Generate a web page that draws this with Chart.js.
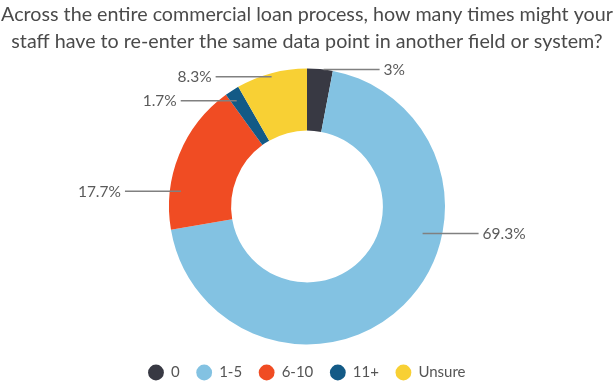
<!DOCTYPE html>
<html>
<head>
<meta charset="utf-8">
<script src="https://cdn.jsdelivr.net/npm/chart.js@4/dist/chart.umd.min.js"></script>
<style>
  html, body { margin: 0; padding: 0; background: #ffffff; }
  #wrap { width: 614px; height: 383px; position: relative; }
</style>
</head>
<body>
<div id="wrap"><canvas id="c" width="614" height="383"></canvas></div>
<script>
const titleLines = [
  'Across the entire commercial loan process, how many times might your',
  'staff have to re-enter the same data point in another field or system?'
];
const categories = ['0', '1-5', '6-10', '11+', 'Unsure'];
const values = [3, 69.3, 17.7, 1.7, 8.3];
const valueLabels = ['3%', '69.3%', '17.7%', '1.7%', '8.3%'];
const colors = ['#383943', '#83c2e2', '#f04c23', '#135a86', '#f8d034'];

const leaderPlugin = {
  id: 'leaderLabels',
  afterDatasetsDraw(chart, args, opts) {
    const ctx = chart.ctx;
    const meta = chart.getDatasetMeta(0);
    ctx.save();
    ctx.font = opts.font;
    ctx.textBaseline = 'middle';
    meta.data.forEach((arc, i) => {
      const p = arc.getProps(['x', 'y', 'startAngle', 'endAngle', 'outerRadius'], true);
      const a = p.startAngle + opts.anchorFrac[i] * (p.endAngle - p.startAngle);
      const r = opts.anchorRadius[i] * p.outerRadius;
      const ax = p.x + r * Math.cos(a);
      const ay = p.y + r * Math.sin(a);
      const dir = Math.cos(a) >= 0 ? 1 : -1;
      const ex = ax + dir * opts.lineLength;
      ctx.strokeStyle = opts.lineColor;
      ctx.lineWidth = opts.lineWidth;
      ctx.beginPath();
      ctx.moveTo(ax, ay);
      ctx.lineTo(ex, ay);
      ctx.stroke();
      ctx.fillStyle = opts.color;
      ctx.textAlign = dir > 0 ? 'left' : 'right';
      ctx.fillText(valueLabels[i], ex + dir * opts.gap, ay + 0.5);
    });
    ctx.restore();
  }
};

new Chart(document.getElementById('c'), {
  type: 'doughnut',
  data: {
    labels: categories,
    datasets: [{
      data: values,
      backgroundColor: colors,
      borderWidth: 0
    }]
  },
  options: {
    responsive: false,
    animation: false,
    radius: 138,
    cutout: '55%',
    layout: { padding: { top: 0, bottom: 0, left: 0, right: 0 } },
    plugins: {
      title: {
        display: true,
        text: titleLines,
        color: '#4a4a4a',
        font: { family: 'Lato', size: 19.7, weight: 'normal', lineHeight: 1.37 },
        padding: { top: 1, bottom: 10 }
      },
      legend: {
        position: 'bottom',
        maxHeight: 35,
        labels: {
          usePointStyle: true,
          pointStyle: 'circle',
          boxWidth: 15,
          boxHeight: 11.2,
          padding: 17,
          color: '#555555',
          font: { family: 'Lato', size: 15 }
        }
      },
      tooltip: { enabled: false },
      leaderLabels: {
        anchorFrac: [0.64, 0.37, 0.26, 0.39, 0.49],
        anchorRadius: [1.0, 0.86, 0.92, 0.92, 0.975],
        lineLength: 56,
        gap: 4,
        lineColor: '#808080',
        lineWidth: 1.5,
        color: '#5a5a5a',
        font: '15.5px Lato'
      }
    }
  },
  plugins: [leaderPlugin]
});
</script>
</body>
</html>
